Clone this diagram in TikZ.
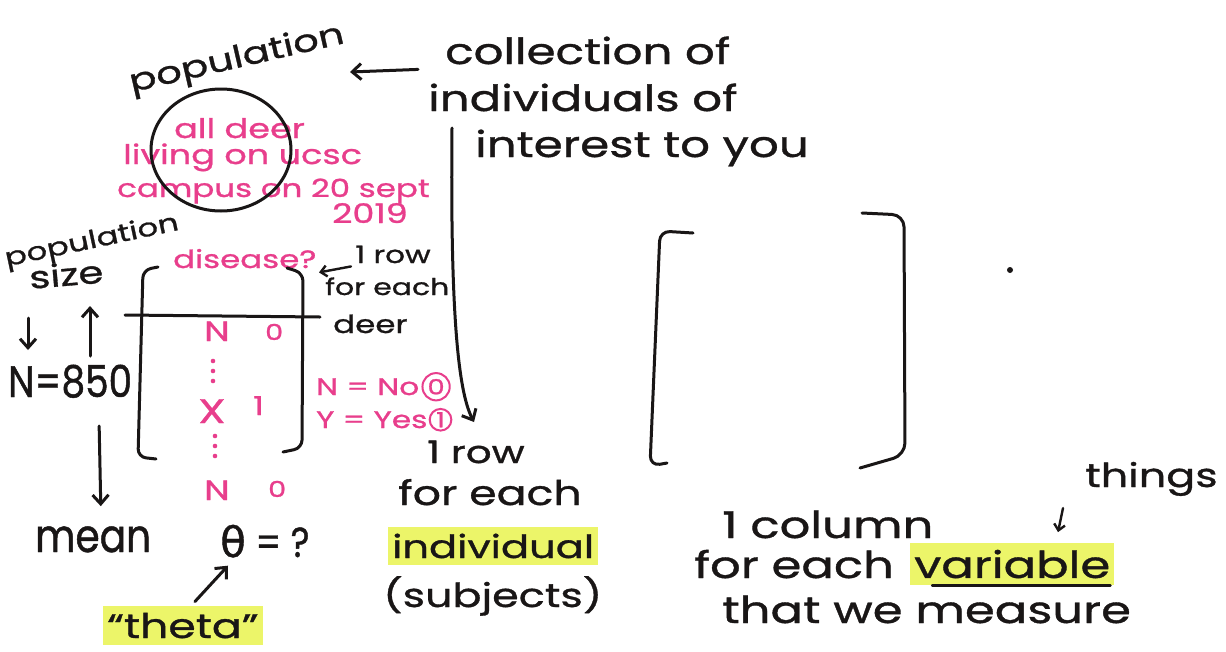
\documentclass[tikz,border=0pt]{standalone}
\usepackage{fontspec}
\setmainfont[FakeStretch=1.3,FakeBold=1]{Poppins}
\newfontfamily\tallfont[FakeStretch=0.85,FakeBold=1]{Poppins}
\newfontfamily\greekfont[FakeBold=1]{DejaVu Sans}
\usepackage{tikz}
\usetikzlibrary{arrows.meta,positioning}
\definecolor{ink}{RGB}{25,22,22}
\definecolor{pinkink}{RGB}{232,62,140}
\definecolor{hilite}{RGB}{236,245,105}

\begin{document}
\begin{tikzpicture}[x=1pt,y=-1pt,
    node distance=4pt,
    txt/.style={inner sep=0pt,anchor=base west,text=ink,font=\fontsize{#1}{#1}\selectfont},
    pk/.style={txt=#1,text=pinkink},
    tall/.style={inner sep=0pt,anchor=base west,text=ink,font=\tallfont\fontsize{#1}{#1}\selectfont},
    hl/.style={fill=hilite,inner xsep=4pt,inner ysep=7pt},
    pen/.style={draw=ink,line width=3pt,line cap=round,line join=round},
    arrow/.style={pen,-{Straight Barb[length=9pt,width=16pt]}},
    sarrow/.style={pen,line width=2.4pt,-{Straight Barb[length=6pt,width=11pt]}},
    pencirc/.style={circle,draw=pinkink,line width=2pt,inner sep=1.5pt,text=pinkink,font=\fontsize{21}{21}\selectfont}
  ]
    \fill[white] (0,0) rectangle (1226,651);
    \useasboundingbox (0,0) rectangle (1226,651);

    \node[txt=31,rotate=13,anchor=center] (pop) at (237,60) {population};
    \node[txt=36] (coll) at (445,64) {collection of};
    \node[txt=36] (indiv) at (428,111) {individuals of};
    \node[txt=36] (inter) at (475,157) {interest to you};
    \coordinate (popt) at (350,72);
    \draw[arrow] ([xshift=-27pt,yshift=-19pt]coll.west) -- (popt);

    \node[pk=27] (d1) at (174,138) {all deer};
    \node[pk=27] (d2) at (123,164) {living on ucsc};
    \node[pk=25] (d3) at (117,197) {campus on 20 sept};
    \node[pk=27] (d4) at (332,223) {2019};
    \draw[pen] (221,150) ellipse [x radius=70pt,y radius=61pt];

    \node[txt=25,rotate=12,anchor=center] (psz) at (92,242) {population};
    \node[txt=31,rotate=5] (size) at (30,289) {size};
    \node[tall=44] (n850) at (8,397) {N=850};
    \coordinate (dn) at (28,318);
    \coordinate (upa) at (90,356);
    \draw[arrow] (dn) -- ++(0,32);\draw[arrow] (upa) -- ++(0,-50);
    \node[tall=46] (mean) at (35,552) {mean};
    \draw[arrow,shorten >=20pt] ([xshift=29pt,yshift=-28pt]n850.south) -- ([xshift=8pt]mean.north);
    \node[tall=42] (theta) at (220,557) {{\greekfont θ} = ?};
    \node[txt=34,hl] (thq) at (103,638) {“theta”};
    \draw[arrow] ([xshift=12pt,yshift=4pt]thq.north) -- ([xshift=8pt,yshift=-8pt]theta.south west);

    \node[pk=25] (dis) at (173,268) {disease?};
    \draw[pen,rounded corners=8pt] (158,267) -- (143,270) -- (138,457) -- (156,459);
    \draw[pen,rounded corners=8pt] (287,268) -- (303,273) -- (302,448) -- (283,452);
    \draw[pen] (125,315) -- (320,317);
    \node[pk=28] (r1a) at (204,341) {N};
    \node[pk=22] (r1b) at (265,340) {0};
    \foreach \y in {361,371,381} \fill[pinkink] (213,\y) circle (2.3pt);
    \node[pk=34] (r2a) at (198,423) {X};
    \node[pk=26] (r2b) at (253,415) {1};
    \foreach \y in {436,446,456} \fill[pinkink] (215,\y) circle (2.3pt);
    \node[pk=28] (r3a) at (204,500) {N};
    \node[pk=22] (r3b) at (268,497) {0};

    \node[txt=24] (row1) at (355,263) {1 row};
    \node[txt=23] (each1) at (325,295) {for each};
    \node[txt=25] (deer) at (333,333) {deer};
    \draw[sarrow] ([xshift=-4pt,yshift=-12pt]row1.west) -- ++(-32,6);
    \node[pk=24] (no) at (316,395) {N = No};
    \node[pencirc,right=2pt of no] (c0) {0};
    \node[pk=24] (yes) at (316,428) {Y = Yes};
    \node[pencirc,right=1pt of yes] (c1) {1};

    \coordinate (lstart) at (452,128);
    \coordinate (lend) at (474,422);
    \draw[arrow] (lstart) .. controls (450,330) and (460,395) .. (lend);
    \node[txt=31] (row2) at (427,463) {1 row};
    \node[txt=34] (each2) at (398,505) {for each};
    \node[txt=32,hl] (ind) at (388,558) {individual};
    \node[txt=33] (subj) at (383,607) {(subjects)};

    \draw[pen,rounded corners=10pt] (693,233) -- (660,231) -- (650,466) -- (667,463);
    \draw[pen,rounded corners=12pt] (862,213) -- (904,215) -- (905,455) -- (860,468);
    \fill[ink] (1010,270) circle (3pt);

    \node[txt=37] (col) at (722,538) {1 column};
    \node[txt=37] (feach) at (694,578) {for each};
    \node[txt=37,hl,right=16pt of feach] (var) {variable};
    \draw[pen,line width=2.5pt] ([xshift=22pt]var.south west) -- ([xshift=-4pt]var.south east);
    \node[txt=37] (meas) at (722,623) {that we measure};
    \node[txt=33] (thg) at (1085,487) {things};
    \draw[sarrow] ([xshift=-22pt,yshift=-12pt]thg.south west) -- ++(-5,24);
  \end{tikzpicture}
\end{document}
